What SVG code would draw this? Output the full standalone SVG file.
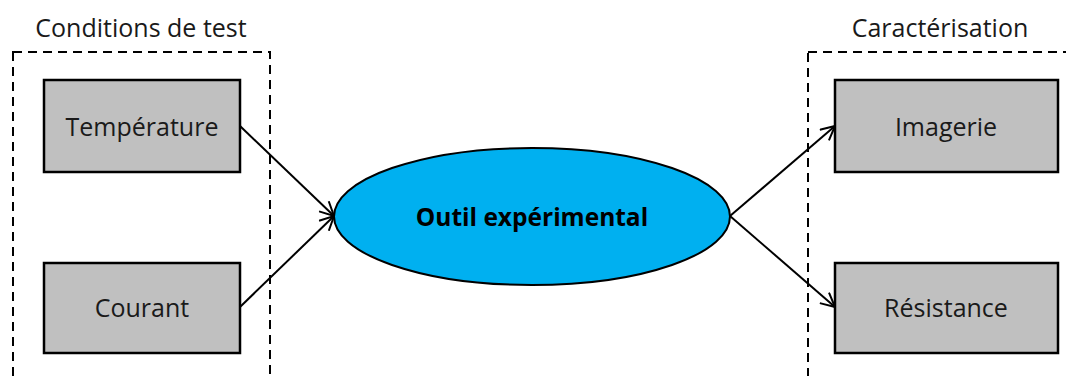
<svg xmlns="http://www.w3.org/2000/svg" width="1066" height="376" viewBox="0 0 1066 376">
<defs>
<style>
.grp{fill:none;stroke:#000;stroke-width:2;stroke-dasharray:9 6}
.box{fill:#c0c0c0;stroke:#000;stroke-width:2.5}
.lbl{font-family:"Open Sans","Liberation Sans",sans-serif;font-size:25px;fill:#1a1a1a;text-anchor:middle}
.ttl{font-family:"Open Sans","Liberation Sans",sans-serif;font-size:25px;fill:#1a1a1a;text-anchor:middle}
.conn{fill:none;stroke:#000;stroke-width:2;marker-end:url(#arr)}
</style>
<marker id="arr" viewBox="0 0 16 16" refX="15" refY="8" markerWidth="16" markerHeight="16" markerUnits="userSpaceOnUse" orient="auto">
<path d="M1,1 L15,8 L1,15" fill="none" stroke="#000" stroke-width="2"/>
</marker>
</defs>
<rect width="1066" height="376" fill="#fff"/>
<g id="group-conditions">
<rect class="grp" x="13" y="52" width="257" height="340"/>
<text class="ttl" x="141" y="37">Conditions de test</text>
</g>
<g id="group-caracterisation">
<rect class="grp" x="808" y="52" width="280" height="340"/>
<text class="ttl" x="940" y="37">Caractérisation</text>
</g>
<g id="connectors">
<line class="conn" x1="240" y1="126" x2="334" y2="216"/>
<line class="conn" x1="240" y1="307" x2="334" y2="216"/>
<line class="conn" x1="730" y1="216" x2="835" y2="126"/>
<line class="conn" x1="730" y1="216" x2="835" y2="307"/>
</g>
<g id="node-temperature">
<rect class="box" x="44" y="80" width="196" height="92"/>
<text class="lbl" x="142" y="136">Température</text>
</g>
<g id="node-courant">
<rect class="box" x="44" y="263" width="196" height="90"/>
<text class="lbl" x="142" y="317">Courant</text>
</g>
<g id="node-outil">
<ellipse cx="532" cy="216.5" rx="198" ry="68.5" fill="#00b0f0" stroke="#000" stroke-width="2"/>
<text x="532" y="226" font-family="'Open Sans','Liberation Sans',sans-serif" font-size="24.5" font-weight="bold" text-anchor="middle" fill="#000">Outil expérimental</text>
</g>
<g id="node-imagerie">
<rect class="box" x="835" y="80" width="223" height="92"/>
<text class="lbl" x="946" y="136">Imagerie</text>
</g>
<g id="node-resistance">
<rect class="box" x="835" y="263" width="223" height="90"/>
<text class="lbl" x="946" y="317">Résistance</text>
</g>
</svg>
